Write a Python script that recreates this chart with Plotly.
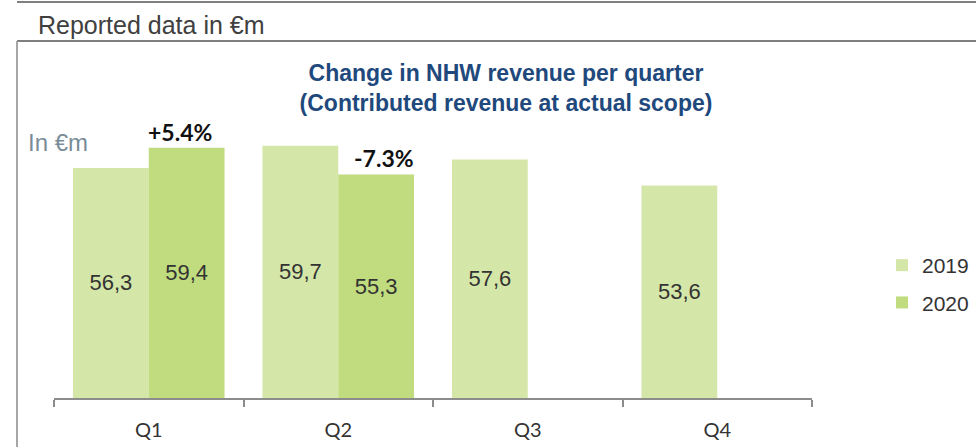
import plotly.graph_objects as go

quarters = ["Q1", "Q2", "Q3", "Q4"]
rev_2019 = [56.3, 59.7, 57.6, 53.6]
rev_2020 = [59.4, 55.3, None, None]
change_labels = ["+5.4%", "-7.3%"]
change_quarters = ["Q1", "Q2"]

Y_MIN = 20.9          # value axis minimum (bars start here)
PX_PER_UNIT = 6.5

W, H = 976, 447
L, R, T, B = 54, 164, 100, 49
PW, PH = W - L - R, H - T - B


def px(x):
    return (x - L) / PW


def py(y):
    return (H - B - y) / PH


def fmt(v):
    return "" if v is None else f"{v:.1f}".replace(".", ",")


def above_min(vals):
    return [None if v is None else v - Y_MIN for v in vals]


fig = go.Figure()
fig.add_trace(go.Bar(
    x=quarters, y=above_min(rev_2019), base=Y_MIN, name="2019", legendgroup="a",
    marker=dict(color="#D4E6A8", line=dict(width=0)),
    text=[fmt(v) for v in rev_2019], textposition="inside",
    insidetextanchor="middle",
    textfont=dict(family="Liberation Sans", size=22, color="#333333"),
))
fig.add_trace(go.Bar(
    x=quarters, y=above_min(rev_2020), base=Y_MIN, name="2020", legendgroup="b",
    marker=dict(color="#C0DC7F", line=dict(width=0)),
    text=[fmt(v) for v in rev_2020], textposition="inside",
    insidetextanchor="middle",
    textfont=dict(family="Liberation Sans", size=22, color="#333333"),
))

shifts = [31, 46]
for q, lab, xs in zip(change_quarters, change_labels, shifts):
    i = quarters.index(q)
    fig.add_annotation(
        x=q, y=rev_2020[i], xref="x", yref="y", text=f"<b>{lab}</b>",
        showarrow=False, xanchor="center", yanchor="bottom", xshift=xs, yshift=0,
        font=dict(family="Lato", size=23, color="#111111"),
    )

fig.add_annotation(
    x=px(36), y=py(25), xref="paper", yref="paper", text="Reported data in €m",
    showarrow=False, xanchor="left", yanchor="middle",
    font=dict(family="Liberation Sans", size=25, color="#404040"),
)
fig.add_annotation(
    x=px(26), y=py(142), xref="paper", yref="paper", text="In €m",
    showarrow=False, xanchor="left", yanchor="middle",
    font=dict(family="Liberation Sans", size=24, color="#7A8C97"),
)

fig.add_shape(type="line", xref="paper", yref="paper",
              x0=px(17), x1=px(976), y0=py(2), y1=py(2),
              line=dict(color="#7F7F7F", width=2))
fig.add_shape(type="line", xref="paper", yref="paper",
              x0=px(17), x1=px(976), y0=py(41), y1=py(41),
              line=dict(color="#7F7F7F", width=2))
fig.add_shape(type="line", xref="paper", yref="paper",
              x0=px(17), x1=px(17), y0=py(41), y1=py(447),
              line=dict(color="#A6A6A6", width=2))

line_col = "#8C8C8C"
fig.update_layout(
    width=W, height=H,
    margin=dict(l=L, r=R, t=T, b=B, autoexpand=False),
    paper_bgcolor="white", plot_bgcolor="white",
    barmode="group", bargap=0.2, bargroupgap=0,
    title=dict(
        text="<b>Change in NHW revenue per quarter<br>(Contributed revenue at actual scope)</b>",
        x=px(506), xref="paper", xanchor="center",
        y=1 - 81 / H, yref="container", yanchor="middle",
        font=dict(family="Liberation Sans", size=23, color="#1F497D"),
    ),
    xaxis=dict(
        type="category", showline=True, linecolor=line_col, linewidth=1.5,
        ticks="outside", tickson="boundaries", ticklen=7, tickcolor=line_col,
        tickwidth=1.5, showgrid=False, ticklabelstandoff=13, automargin=False,
        tickfont=dict(family="Lato", size=20, color="#333333"),
    ),
    yaxis=dict(range=[Y_MIN, Y_MIN + PH / PX_PER_UNIT], visible=False,
               showgrid=False, automargin=False),
    legend=dict(
        x=px(882), xanchor="left", y=py(284), yanchor="middle",
        traceorder="grouped", tracegroupgap=7,
        font=dict(family="Liberation Sans", size=21, color="#333333"),
        bgcolor="rgba(0,0,0,0)",
    ),
    showlegend=True,
)

fig.write_html(
    "out.html",
    config={"displayModeBar": False},
    post_script=(
        "document.documentElement.style.margin='0';"
        "document.documentElement.style.overflow='hidden';"
        "document.body.style.margin='0';"
        "document.body.style.overflow='hidden';"
    ),
)
